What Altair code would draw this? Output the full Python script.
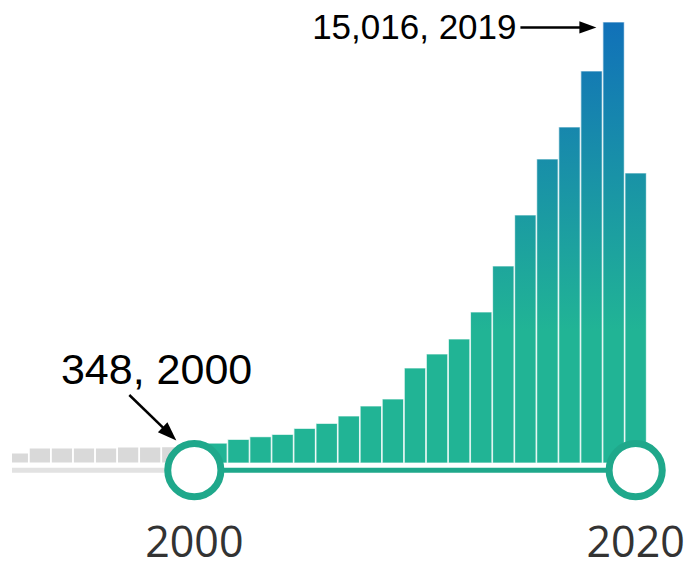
import altair as alt

# ---------------- data ----------------
gray_years = [1992, 1993, 1994, 1995, 1996, 1997, 1998, 1999]
gray_counts = [340, 510, 510, 510, 510, 545, 545, 560]

years = [2000, 2001, 2002, 2003, 2004, 2005, 2006, 2007, 2008, 2009, 2010,
         2011, 2012, 2013, 2014, 2015, 2016, 2017, 2018, 2019, 2020]
counts = [348, 680, 807, 895, 977, 1182, 1352, 1600, 1941, 2179, 3235,
          3711, 4222, 5142, 6708, 8444, 10351, 11441, 13348, 15016, 9875]

range_years = [2000, 2020]
range_labels = ["2000", "2020"]

note_texts = ["348, 2000", "15,016, 2019"]

# ---------------- layout constants ----------------
X_DOMAIN = [1991.964, 2022.009]
Y_DOMAIN = [-3234.75, 15492.75]
BASE_Y = -245          # slider track / handles
LABEL_Y = -3200        # year labels baseline
TEAL = "#21B495"
TRACK = "#1FA88B"

# gradient colours (absolute, by value)
RAMP_START, RAMP_END = 4500, 15100
C0 = (0x21, 0xB4, 0x95)
C1 = (0x11, 0x70, 0xB9)


def hexc(c):
    return "#%02x%02x%02x" % tuple(int(round(v)) for v in c)


def ramp(v):
    t = max(0.0, min(1.0, (v - RAMP_START) / (RAMP_END - RAMP_START)))
    return hexc([a + (b - a) * t for a, b in zip(C0, C1)])


def grad(v):
    if v <= RAMP_START:
        stops = [{"offset": 0, "color": TEAL}, {"offset": 1, "color": TEAL}]
    else:
        stops = [{"offset": 0, "color": TEAL},
                 {"offset": RAMP_START / v, "color": TEAL},
                 {"offset": 1, "color": ramp(v)}]
    return {"gradient": "linear", "x1": 0, "y1": 1, "x2": 0, "y2": 0, "stops": stops}


bar_recs = [{"year": y, "count": c, "grad": grad(c)} for y, c in zip(years, counts)]
gray_recs = [{"year": y, "count": c} for y, c in zip(gray_years, gray_counts)]

xs = alt.Scale(domain=X_DOMAIN, nice=False, zero=False)
ys = alt.Scale(domain=Y_DOMAIN, nice=False, zero=False)


def X(f):
    return alt.X(f, type="quantitative", scale=xs, axis=None)


def Y(f):
    return alt.Y(f, type="quantitative", scale=ys, axis=None)


gray_bars = alt.Chart(alt.Data(values=gray_recs)).mark_bar(
    size=21.5, color="#d9d9d9", stroke="white", strokeWidth=1.2, clip=True
).encode(x=X("year"), y=Y("count"))

bars = alt.Chart(alt.Data(values=bar_recs)).mark_bar(
    size=21.5, stroke="white", strokeWidth=1.2, strokeOpacity=0.7
).encode(x=X("year"), y=Y("count"), fill=alt.Fill("grad:N", scale=None))

gray_track = alt.Chart(alt.Data(values=[{"a": 1985, "b": range_years[0], "y": BASE_Y}])).mark_rule(
    color="#e2e2e2", strokeWidth=5, clip=True
).encode(x=X("a"), x2="b", y=Y("y"))

track = alt.Chart(alt.Data(values=[{"a": range_years[0], "b": range_years[1], "y": BASE_Y}])).mark_rule(
    color=TRACK, strokeWidth=5
).encode(x=X("a"), x2="b", y=Y("y"))

handles = alt.Chart(alt.Data(values=[{"year": y, "y": BASE_Y} for y in range_years])).mark_point(
    shape="circle", size=2827, fill="white", fillOpacity=1, stroke=TRACK,
    strokeWidth=7, opacity=1
).encode(x=X("year"), y=Y("y"))

labels = alt.Chart(alt.Data(values=[{"year": y, "t": t, "y": LABEL_Y}
                                    for y, t in zip(range_years, range_labels)])).mark_text(
    font="Open Sans", fontSize=43, color="#333333", align="center", baseline="alphabetic"
).encode(x=X("year"), y=Y("y"), text="t:N")

notes = alt.Chart(alt.Data(values=[
    {"x": 1998.29, "y": 2690, "t": note_texts[0], "s": 43},
    {"x": 2009.97, "y": 14454, "t": note_texts[1], "s": 35},
])).mark_text(
    font="Liberation Sans", color="black", align="center", baseline="alphabetic"
).encode(x=X("x"), y=Y("y"), text="t:N", size=alt.Size("s:Q", scale=None))

arrow_lines = alt.Chart(alt.Data(values=[
    {"x": 1997.054, "y": 2315, "x2": 1998.875, "y2": 994},
    {"x": 2014.777, "y": 14829, "x2": 2017.835, "y2": 14829},
])).mark_rule(color="black", strokeWidth=2.5).encode(
    x=X("x"), y=Y("y"), x2="x2", y2="y2")

arrow_heads = alt.Chart(alt.Data(values=[
    {"x": 1998.875, "y": 994, "a": 44, "s": 361},
    {"x": 2017.835, "y": 14829, "a": 0, "s": 289},
])).mark_point(
    shape="M-1,-0.72L1,0L-1,0.72Z", filled=True, color="black", opacity=1
).encode(x=X("x"), y=Y("y"), angle=alt.Angle("a:Q", scale=None),
         size=alt.Size("s:Q", scale=None))

chart = alt.layer(
    gray_bars, bars, gray_track, track, handles, labels, notes, arrow_lines, arrow_heads
).properties(
    width=673, height=550, autosize="none",
    padding={"left": 4, "top": 0, "right": 0, "bottom": 0},
    background="white",
).configure_view(stroke=None)

chart.save("out.html", embed_options={"renderer": "svg", "actions": False})
